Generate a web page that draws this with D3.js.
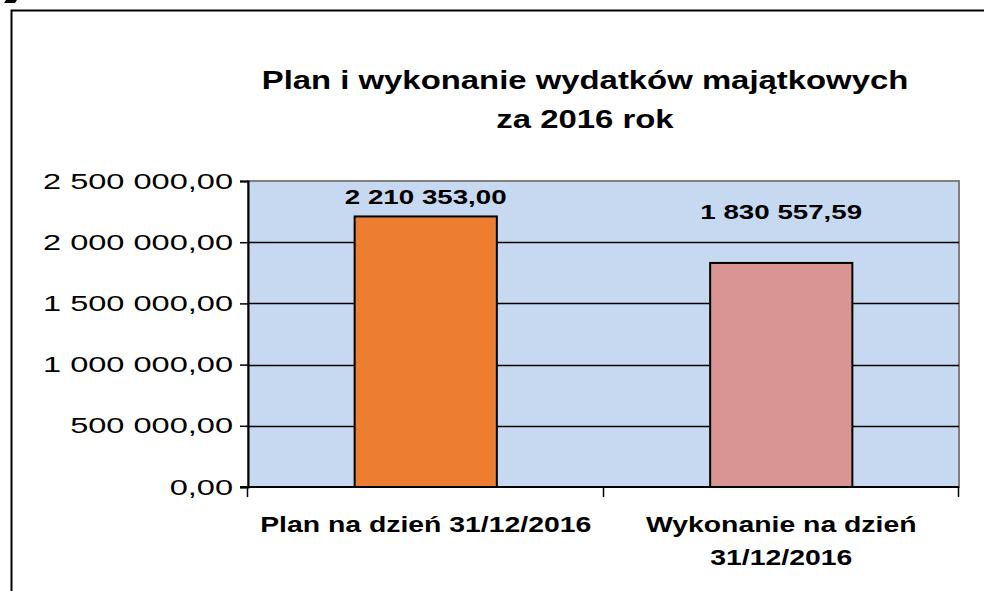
<!DOCTYPE html>
<html lang="pl">
<head>
<meta charset="UTF-8">
<script src="https://d3js.org/d3.v7.min.js"></script>
<style>
  body { margin: 0; background: #fff; font-family: "Liberation Sans", Arial, sans-serif; }
  svg { display: block; }
</style>
</head>
<body>
<div id="chart"></div>
<script>
// data
const categories = ["Plan na dzień 31/12/2016", "Wykonanie na dzień 31/12/2016"];
const values = [2210353.00, 1830557.59];
const barColors = ["#ed7d31", "#d99594"];
const yTicks = [0, 500000, 1000000, 1500000, 2000000, 2500000];
const titleLines = ["Plan i wykonanie wydatków majątkowych", "za 2016 rok"];
const xLabelLines = [["Plan na dzień 31/12/2016"], ["Wykonanie na dzień", "31/12/2016"]];

const W = 985, H = 591;
const plot = { left: 248, top: 181, right: 959, bottom: 487 };
const labelOffsets = [12, 44];

const svg = d3.select("#chart").append("svg")
    .attr("width", W).attr("height", H);

// the original text looks horizontally stretched, so widen it around its anchor
function stretch(sel, sx) {
    sel.each(function () {
        const t = d3.select(this);
        const x = +t.attr("x") || 0;
        t.attr("transform", `translate(${x * (1 - sx)},0) scale(${sx},1)`);
    });
}

// outer frame (top and left edges visible)
svg.append("path")
    .attr("d", `M11.5,${H} V10.5 H984`)
    .attr("fill", "none").attr("stroke", "#000").attr("stroke-width", 2);
svg.append("path")
    .attr("d", "M4,3 L6,0 H17 L15,3 Z")
    .attr("fill", "#000");

// fmt: "2 500 000,00"
const fmt = v => {
    const [i, d] = v.toFixed(2).split(".");
    return i.replace(/\B(?=(\d{3})+(?!\d))/g, " ") + "," + d;
};

const x = d3.scaleBand().domain(categories)
    .range([plot.left, plot.right]).paddingInner(0.6).paddingOuter(0.3);
const y = d3.scaleLinear().domain([0, 2500000]).range([plot.bottom, plot.top]);

// plot background
svg.append("rect")
    .attr("x", plot.left).attr("y", plot.top)
    .attr("width", plot.right - plot.left).attr("height", plot.bottom - plot.top)
    .attr("fill", "#c6d9f1")
    .attr("stroke", "#808080").attr("stroke-width", 2);

// gridlines
svg.append("g").selectAll("line")
    .data(yTicks.filter(t => t > 0 && t < 2500000))
    .join("line")
    .attr("x1", plot.left).attr("x2", plot.right)
    .attr("y1", d => Math.round(y(d)) + 0.5).attr("y2", d => Math.round(y(d)) + 0.5)
    .attr("stroke", "#000").attr("stroke-width", 1.5);

// y axis
const yAxis = svg.append("g")
    .attr("transform", `translate(${plot.left},0)`)
    .call(d3.axisLeft(y).tickValues(yTicks).tickFormat(fmt).tickSize(8).tickPadding(7));
yAxis.select(".domain").attr("stroke", "#000").attr("stroke-width", 2);
yAxis.selectAll(".tick line").attr("stroke", "#000").attr("stroke-width", 1.5);
yAxis.selectAll(".tick text")
    .attr("font-family", "'Liberation Sans', Arial, sans-serif")
    .attr("font-size", 22).attr("fill", "#000")
    .call(stretch, 1.48);

// x axis line and ticks at category boundaries
const xAxisG = svg.append("g");
xAxisG.append("line")
    .attr("x1", plot.left - 8).attr("x2", plot.right)
    .attr("y1", plot.bottom).attr("y2", plot.bottom)
    .attr("stroke", "#000").attr("stroke-width", 2);
const boundaries = categories.map((c, i) => plot.left + i * (plot.right - plot.left) / categories.length)
    .concat([plot.right]);
xAxisG.selectAll("line.tk").data(boundaries).join("line")
    .attr("class", "tk")
    .attr("x1", d => Math.round(d) - 0.5).attr("x2", d => Math.round(d) - 0.5)
    .attr("y1", plot.bottom).attr("y2", plot.bottom + 10)
    .attr("stroke", "#000").attr("stroke-width", 1.5);

// bars
svg.append("g").selectAll("rect")
    .data(categories)
    .join("rect")
    .attr("x", d => x(d))
    .attr("y", (d, i) => y(values[i]))
    .attr("width", x.bandwidth())
    .attr("height", (d, i) => y(0) - y(values[i]))
    .attr("fill", (d, i) => barColors[i])
    .attr("stroke", "#000").attr("stroke-width", 2);

// value labels
svg.append("g").selectAll("text")
    .data(categories)
    .join("text")
    .attr("x", d => x(d) + x.bandwidth() / 2)
    .attr("y", (d, i) => y(values[i]) - labelOffsets[i])
    .attr("text-anchor", "middle")
    .attr("font-size", 21).attr("font-weight", "bold")
    .text((d, i) => fmt(values[i]))
    .call(stretch, 1.32);

// category labels
categories.forEach((c, i) => {
    const cx = x(c) + x.bandwidth() / 2;
    const t = svg.append("text")
        .attr("x", cx)
        .attr("text-anchor", "middle")
        .attr("font-size", 22).attr("font-weight", "bold");
    xLabelLines[i].forEach((line, j) => {
        t.append("tspan").attr("x", cx)
            .attr("y", 532 + j * 33).text(line);
    });
    t.call(stretch, 1.29);
});

// title
svg.append("g").selectAll("text")
    .data(titleLines)
    .join("text")
    .attr("x", 585)
    .attr("y", (d, i) => 89 + i * 39)
    .attr("text-anchor", "middle")
    .attr("font-size", 26).attr("font-weight", "bold")
    .text(d => d)
    .call(stretch, 1.265);
</script>
</body>
</html>
